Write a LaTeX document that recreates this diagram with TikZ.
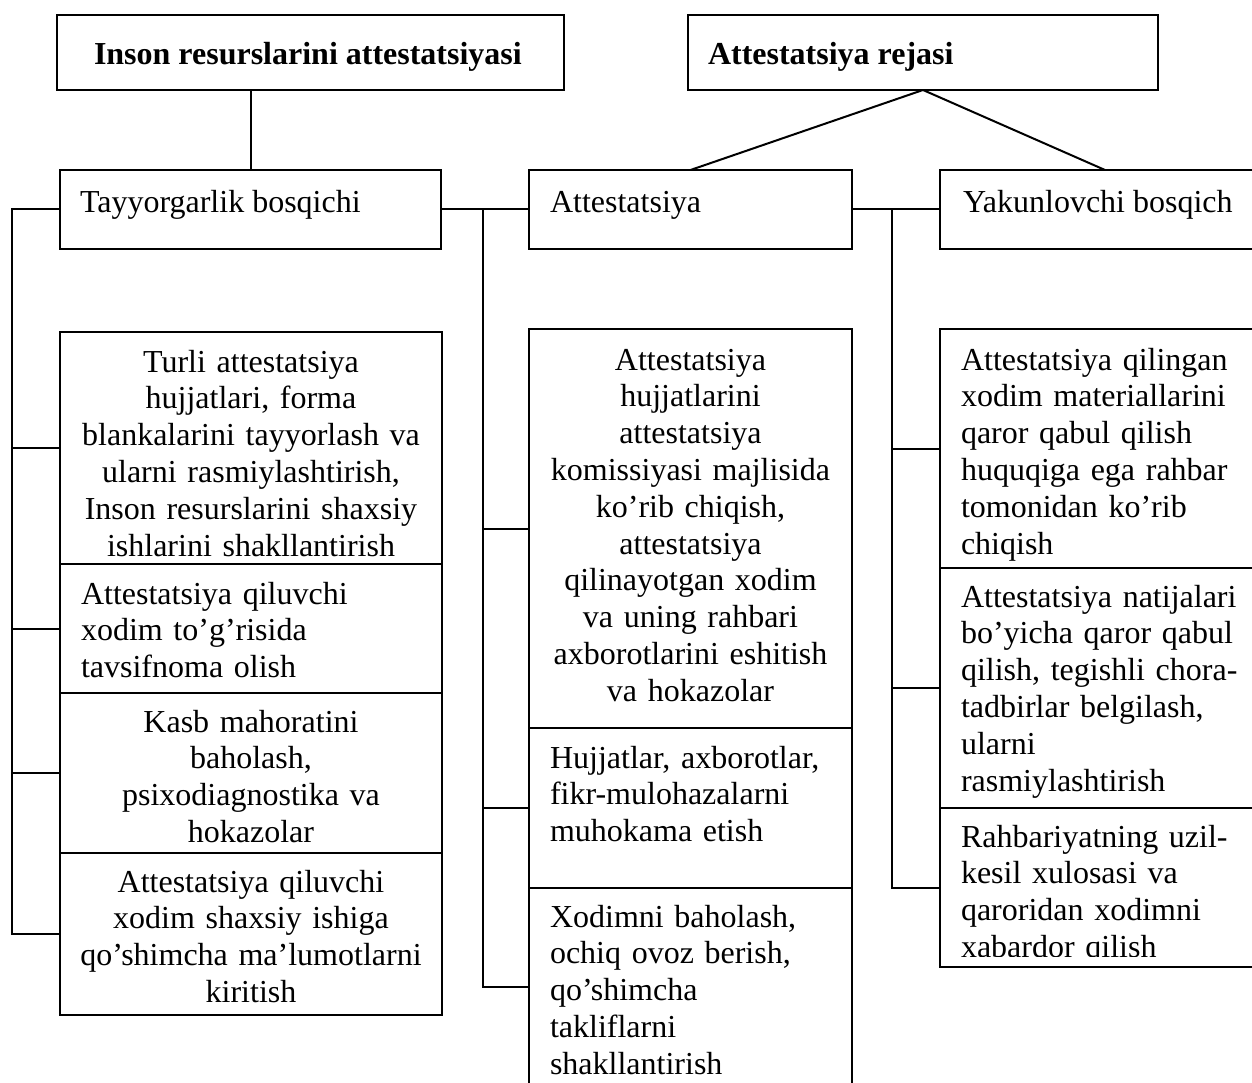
\documentclass[tikz,border=0pt]{standalone}
\usepackage{fontspec}
\setmainfont{Liberation Serif}
\begin{document}
\begin{tikzpicture}[x=1pt,y=-1pt,
  ibox/.style={draw,line width=1.6pt,inner sep=0pt,outer sep=0pt},
  ttext/.style={inner sep=0pt,outer sep=0pt,font=\fontsize{32}{36.8}\selectfont},
  ctr/.style={ttext,text width=#1,align=center,anchor=base},
  lft/.style={ttext,text width=360pt,align=left,anchor=base west},
  link/.style={line width=2pt}]
\useasboundingbox (0,0) rectangle (1252,1083);
\clip (0,0) rectangle (1252,1083);

% top boxes
\node[ibox,minimum width=507,minimum height=75] (top1) at (310.5,52.5) {};
\node[ttext,anchor=base west] (top1t) at (94,65) {\bfseries Inson resurslarini attestatsiyasi};
\node[ibox,minimum width=470,minimum height=75] (top2) at (923,52.5) {};
\node[ttext,anchor=base west] (top2t) at (708,65) {\bfseries Attestatsiya rejasi};

% stage boxes
\node[ibox,minimum width=381,minimum height=79] (tay) at (250.5,209.5) {};
\node[ttext,anchor=base west] (tayt) at (80,213) {Tayyorgarlik bosqichi};
\node[ibox,minimum width=323,minimum height=79] (att) at (690.5,209.5) {};
\node[ttext,anchor=base west] (attt) at (550,213) {Attestatsiya};
\node[ibox,minimum width=330,minimum height=79] (yak) at (1105,209.5) {};
\node[ttext,anchor=base west] (yakt) at (963,213) {Yakunlovchi bosqich};

% left column
\node[ibox,minimum width=382,minimum height=232] (l1) at (251,448) {};
\node[ctr=382pt] (l1t) at (251,372) {Turli attestatsiya\\hujjatlari, forma\\blankalarini tayyorlash va\\ularni rasmiylashtirish,\\Inson resurslarini shaxsiy\\ishlarini shakllantirish};
\node[ibox,minimum width=382,minimum height=129] (l2) at (251,628.5) {};
\node[lft] (l2t) at (81,604) {Attestatsiya qiluvchi\\xodim to’g’risida\\tavsifnoma olish};
\node[ibox,minimum width=382,minimum height=160] (l3) at (251,773) {};
\node[ctr=382pt] (l3t) at (251,732) {Kasb mahoratini\\baholash,\\psixodiagnostika va\\hokazolar};
\node[ibox,minimum width=382,minimum height=162] (l4) at (251,934) {};
\node[ctr=382pt] (l4t) at (251,892) {Attestatsiya qiluvchi\\xodim shaxsiy ishiga\\qo’shimcha ma’lumotlarni\\kiritish};

% middle column
\node[ibox,minimum width=323,minimum height=399] (m1) at (690.5,528.5) {};
\node[ctr=323pt] (m1t) at (690.5,370) {Attestatsiya\\hujjatlarini\\attestatsiya\\komissiyasi majlisida\\ko’rib chiqish,\\attestatsiya\\qilinayotgan xodim\\va uning rahbari\\axborotlarini eshitish\\va hokazolar};
\node[ibox,minimum width=323,minimum height=160] (m2) at (690.5,808) {};
\node[lft] (m2t) at (550,768) {Hujjatlar, axborotlar,\\fikr-mulohazalarni\\muhokama etish};
\node[ibox,minimum width=323,minimum height=198] (m3) at (690.5,987) {};
\node[lft] (m3t) at (550,927) {Xodimni baholash,\\ochiq ovoz berish,\\qo’shimcha\\takliflarni\\shakllantirish};

% right column
\node[ibox,minimum width=330,minimum height=239] (r1) at (1105,448.5) {};
\node[lft] (r1t) at (961,370) {Attestatsiya qilingan\\xodim materiallarini\\qaror qabul qilish\\huquqiga ega rahbar\\tomonidan ko’rib\\chiqish};
\node[ibox,minimum width=330,minimum height=240] (r2) at (1105,688) {};
\node[lft] (r2t) at (961,607) {Attestatsiya natijalari\\bo’yicha qaror qabul\\qilish, tegishli chora-\\tadbirlar belgilash,\\ularni\\rasmiylashtirish};
\node[ibox,minimum width=330,minimum height=159] (r3) at (1105,887.5) {};
\begin{scope}
  \clip (940,808) rectangle (1252,956);
  \node[lft] (r3t) at (961,847) {Rahbariyatning uzil-\\kesil xulosasi va\\qaroridan xodimni\\xabardor qilish};
\end{scope}

% connectors top
\draw[link] (top1.south -| tay.north) -- (tay.north);
\draw[link] (top2.south) -- (att.north);
\draw[link] (top2.south) -- (yak.north);

% left spine
\draw[link] (tay.west) -- ++(-48,0) coordinate (ls) |- (l4.west);
\draw[link] (l1.west) -- (l1.west -| ls);
\draw[link] (l2.west) -- (l2.west -| ls);
\draw[link] (l3.west) -- (l3.west -| ls);

% middle spine
\draw[link] (tay.east) -- (att.west);
\draw[link] (tay.east) ++(42,0) coordinate (ms) |- (m3.west);
\draw[link] (m1.west) -- (m1.west -| ms);
\draw[link] (m2.west) -- (m2.west -| ms);

% right spine
\draw[link] (att.east) -- (yak.west);
\draw[link] (att.east) ++(40,0) coordinate (rs) |- (r3.west);
\draw[link] (r1.west) -- (r1.west -| rs);
\draw[link] (r2.west) -- (r2.west -| rs);
\end{tikzpicture}
\end{document}
